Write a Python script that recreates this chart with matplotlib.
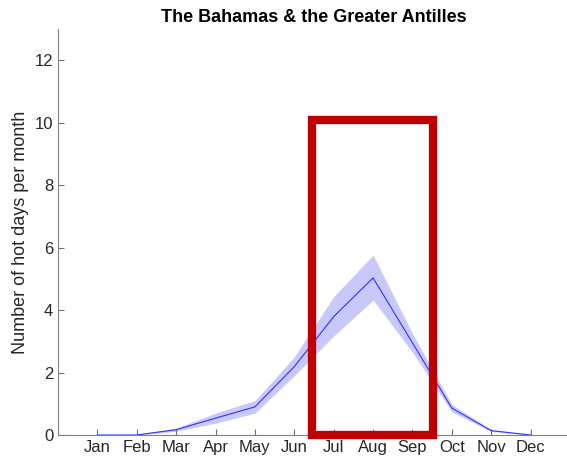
import matplotlib.pyplot as plt
from matplotlib.patches import Rectangle

months = ["Jan", "Feb", "Mar", "Apr", "May", "Jun",
          "Jul", "Aug", "Sep", "Oct", "Nov", "Dec"]
hot_days = [0.0, 0.0, 0.17, 0.54, 0.9, 2.19, 3.79, 5.03, 2.95, 0.86, 0.14, 0.0]
upper = [0.0, 0.02, 0.22, 0.7, 1.1, 2.5, 4.43, 5.76, 3.25, 0.98, 0.17, 0.01]
lower = [0.0, 0.0, 0.12, 0.38, 0.7, 1.9, 3.17, 4.32, 2.65, 0.74, 0.11, 0.0]

# highlighted season (Jul-Sep)
box_x = (6.45, 9.52)
box_top = 10.1

plt.rcParams["font.family"] = ["Liberation Sans", "DejaVu Sans"]

fig = plt.figure(figsize=(5.67, 4.59), dpi=100)
ax = fig.add_axes([58 / 567, 1 - 435 / 459, 512 / 567, 406 / 459])

x = list(range(1, len(months) + 1))
ax.fill_between(x, lower, upper, color="#c8c8fa", linewidth=0)
ax.plot(x, hot_days, color="#3030ff", linewidth=0.8)

ax.add_patch(Rectangle((box_x[0], 0), box_x[1] - box_x[0], box_top,
                       fill=False, edgecolor="#c00000", linewidth=6,
                       joinstyle="miter", clip_on=False, zorder=5))

ax.set_xlim(0, 13)
ax.set_ylim(0, 13)
ax.set_xticks(x)
ax.set_xticklabels(months)
ax.set_yticks(range(0, 13, 2))
ax.tick_params(direction="in", length=4, color="#707070", labelsize=12,
               labelcolor="#262626")
for side in ("top", "right"):
    ax.spines[side].set_visible(False)
for side in ("left", "bottom"):
    ax.spines[side].set_color("#808080")
    ax.spines[side].set_linewidth(0.8)

ax.set_ylabel("Number of hot days per month", fontsize=13, color="#262626")
ax.set_title("The Bahamas & the Greater Antilles", fontsize=13,
             fontweight="bold", x=(314 - 58) / 512, pad=5)

fig.savefig("out.png", dpi=100)
